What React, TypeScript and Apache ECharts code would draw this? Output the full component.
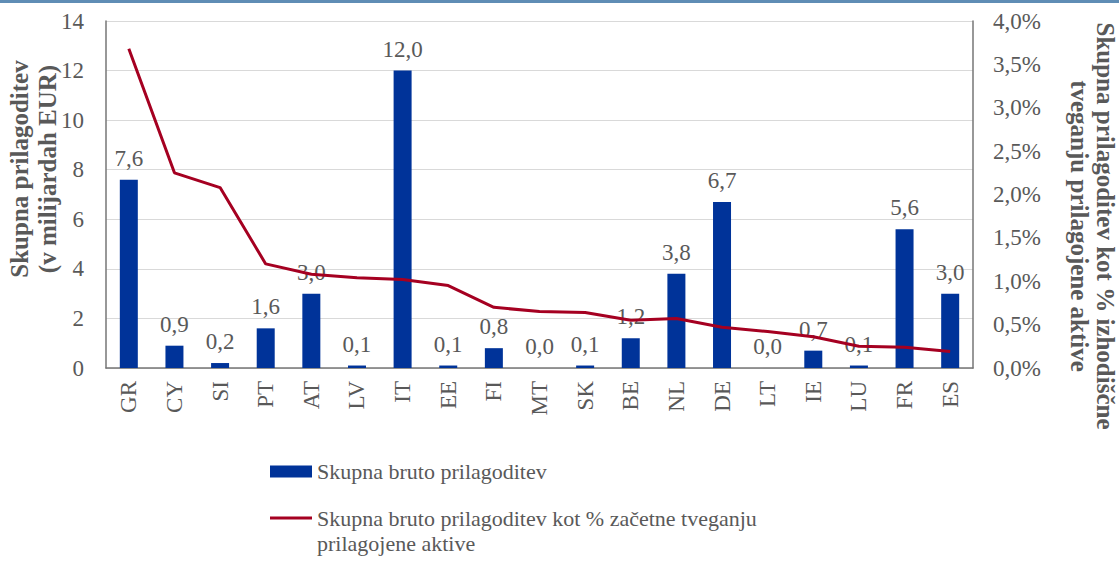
import React, { useEffect, useRef } from "react";
import * as echarts from "echarts";

const categories = ["GR", "CY", "SI", "PT", "AT", "LV", "IT", "EE", "FI", "MT", "SK", "BE", "NL", "DE", "LT", "IE", "LU", "FR", "ES"];
const adjustmentBn = [7.6, 0.9, 0.2, 1.6, 3.0, 0.1, 12.0, 0.1, 0.8, 0.0, 0.1, 1.2, 3.8, 6.7, 0.0, 0.7, 0.1, 5.6, 3.0];
const adjustmentPct = [3.68, 2.25, 2.08, 1.2, 1.08, 1.04, 1.02, 0.95, 0.7, 0.65, 0.64, 0.55, 0.57, 0.47, 0.42, 0.36, 0.25, 0.24, 0.19];

const barName = "Skupna bruto prilagoditev";
const lineName = "Skupna bruto prilagoditev kot % začetne tveganju prilagojene aktive";
const lineLegendLines = ["Skupna bruto prilagoditev kot % začetne tveganju", "prilagojene aktive"];
const leftTitle = "Skupna prilagoditev\n(v milijardah EUR)";
const rightTitle = "Skupna prilagoditev kot % izhodiščne\ntveganju prilagojene aktive";

const FONT = "Liberation Serif";
const GREY = "#595959";
const BLUE = "#003399";
const RED = "#a50021";

export default function App() {
  const ref = useRef<HTMLDivElement>(null);
  useEffect(() => {
    if (!ref.current) return;
    const chart = echarts.init(ref.current, undefined, { renderer: "svg" });
    const comma = (v: number) => v.toFixed(1).replace(".", ",");
    const rich = {
      a: { fontFamily: FONT, fontSize: 22, color: GREY, lineHeight: 25 },
      s: { fontFamily: FONT, fontSize: 22, color: GREY, lineHeight: 25 },
    };
    chart.setOption({
      animation: false,
      textStyle: { fontFamily: FONT },
      grid: { left: 106, right: 146, top: 21, bottom: 193, containLabel: false },
      legend: [
        {
          data: [{ name: barName, icon: "rect" }],
          left: 265,
          top: 454,
          itemWidth: 42,
          itemHeight: 12,
          textStyle: { fontFamily: FONT, fontSize: 22, color: GREY, lineHeight: 25 },
        },
        {
          data: [{ name: lineName, icon: "rect", itemStyle: { color: RED } }],
          left: 265,
          top: 477,
          itemWidth: 42,
          itemHeight: 3,
          formatter: () => `{s| }\n{a|${lineLegendLines[0]}}\n{a|${lineLegendLines[1]}}`,
          textStyle: { fontFamily: FONT, fontSize: 22, color: GREY, rich },
        },
      ],
      xAxis: {
        type: "category",
        data: categories,
        axisLine: { show: true, lineStyle: { color: "#767676", width: 1.5 } },
        axisTick: { show: false },
        axisLabel: { rotate: 90, fontSize: 23, color: GREY, fontFamily: FONT, margin: 13, interval: 0 },
      },
      yAxis: [
        {
          type: "value",
          min: 0,
          max: 14,
          interval: 2,
          axisLine: { show: true, lineStyle: { color: "#767676", width: 1.5 } },
          axisTick: { show: false },
          axisLabel: { fontSize: 23, color: GREY, fontFamily: FONT, margin: 22 },
          splitLine: { lineStyle: { color: "#d9d9d9", width: 1 } },
        },
        {
          type: "value",
          min: 0,
          max: 4,
          interval: 0.5,
          position: "right",
          axisLine: { show: true, lineStyle: { color: "#767676", width: 1.5 } },
          axisTick: { show: false },
          axisLabel: {
            fontSize: 23,
            color: GREY,
            fontFamily: FONT,
            margin: 20,
            formatter: (v: number) => comma(v) + "%",
          },
          splitLine: { show: false },
        },
      ],
      series: [
        {
          name: barName,
          type: "bar",
          data: adjustmentBn,
          barWidth: 18,
          itemStyle: { color: BLUE },
          label: {
            show: true,
            position: "top",
            distance: 10,
            fontSize: 23,
            color: GREY,
            fontFamily: FONT,
            formatter: (p: any) => comma(p.value),
          },
          z: 2,
        },
        {
          name: lineName,
          type: "line",
          yAxisIndex: 1,
          data: adjustmentPct,
          symbol: "none",
          lineStyle: { color: RED, width: 3 },
          itemStyle: { color: RED },
          z: 3,
        },
      ],
      graphic: [
        { type: "rect", left: 0, top: 0, shape: { width: 1119, height: 3 }, style: { fill: "#5f8db5" } },
        {
          type: "text",
          x: 33,
          y: 169,
          rotation: Math.PI / 2,
          style: {
            text: leftTitle,
            fontFamily: FONT,
            fontSize: 25,
            fontWeight: "bold",
            lineHeight: 28,
            fill: GREY,
            align: "center",
            verticalAlign: "middle",
          },
        },
        {
          type: "text",
          x: 1092,
          y: 226,
          rotation: -Math.PI / 2,
          style: {
            text: rightTitle,
            fontFamily: FONT,
            fontSize: 25,
            fontWeight: "bold",
            lineHeight: 26,
            fill: GREY,
            align: "center",
            verticalAlign: "middle",
          },
        },
      ],
    });
    return () => chart.dispose();
  }, []);
  return <div ref={ref} style={{ position: "fixed", left: 0, top: 0, width: 1119, height: 561, background: "#fff" }} />;
}
